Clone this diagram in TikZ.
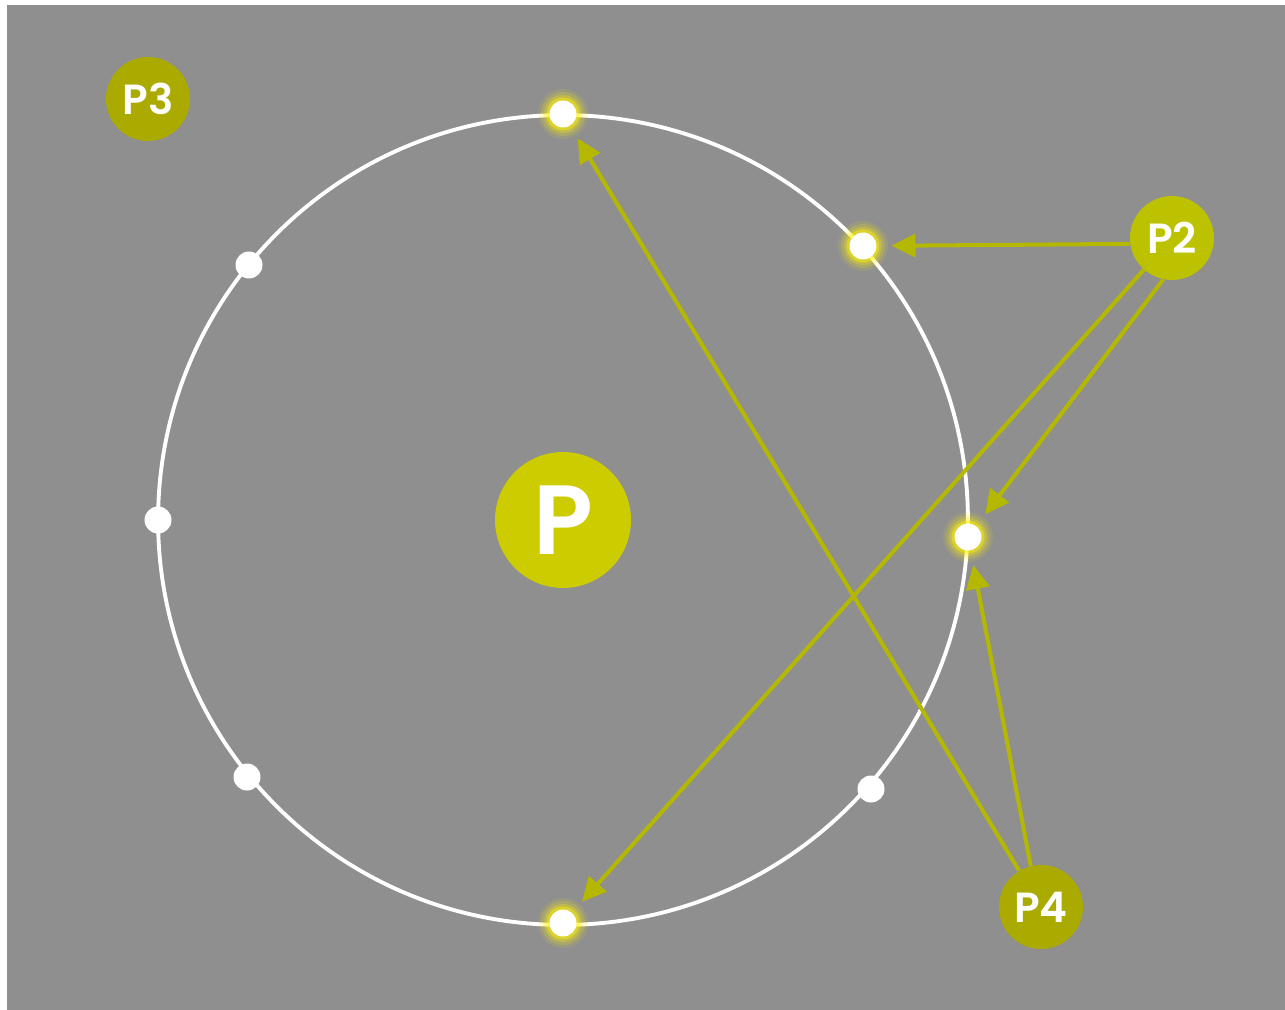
\documentclass[tikz,border=0pt]{standalone}
\usepackage{fontspec}
\setmainfont{Poppins}[BoldFont={Poppins SemiBold}]
\usetikzlibrary{arrows.meta}

\definecolor{bggray}{HTML}{8F8F8F}
\definecolor{olivemain}{HTML}{CCCC00}
\definecolor{olivemid}{HTML}{BDC200}
\definecolor{olivedark}{HTML}{AAAA00}
\definecolor{arrowolive}{HTML}{B5B800}

\begin{document}
\begin{tikzpicture}[
    x=0.02cm, y=-0.02cm,
    >={Triangle[length=0.48cm, width=0.46cm]},
    ring/.style={white, line width=2.2pt},
    dot/.style={circle, fill=white, minimum size=0.54cm, inner sep=0pt, outer sep=0pt},
    hub/.style={circle, fill=olivemain, minimum size=2.72cm, inner sep=0pt, text=white,
        font=\fontsize{56}{58}\selectfont\bfseries},
    peer/.style={circle, minimum size=1.68cm, inner sep=0pt, text=white,
        font=\fontsize{24}{26}\selectfont\bfseries},
    link/.style={->, arrowolive, line width=2.3pt, shorten >=0.3cm}
]
    % canvas
    \useasboundingbox (0,0) rectangle (1285,1010);
    \fill[white] (0,0) rectangle (1285,1010);
    \fill[bggray] (7,5) rectangle (1285,1010);

    % ring
    \draw[ring] (563,520) circle (8.1cm);

    % glow round the targeted dots
    \foreach \p in {(563,114), (863,246), (968,537), (563,923)}
        \foreach \r/\o in {0.50/0.10, 0.44/0.16, 0.38/0.25, 0.33/0.45}
            \fill[yellow, opacity=\o] \p circle (\r cm);

    % dots on the ring
    \node[dot] (dTop) at (563,114) {};
    \node[dot] (dNE)  at (863,246) {};
    \node[dot] (dE)   at (968,537) {};
    \node[dot] (dSE)  at (871,789) {};
    \node[dot] (dBot) at (563,923) {};
    \node[dot] (dSW)  at (247,777) {};
    \node[dot] (dW)   at (158,520) {};
    \node[dot] (dNW)  at (249,265) {};

    % peers
    \node[hub] (p) at (563,520) {P};
    \node[peer, fill=olivedark] (p3) at (148,99) {P3};
    \node[peer, fill=olivemid] (p2) at (1172,238) {P2};
    \node[peer, fill=olivedark] (p4) at (1041,907) {P4};

    % lookups
    \draw[link] (p2.188) -- (dNE);
    \draw[link] (p2) -- (dBot);
    \draw[link] (p2.258) -- (dE);
    \draw[link] (p4) -- (dTop);
    \draw[link] (p4.104) -- (dE);
\end{tikzpicture}
\end{document}
